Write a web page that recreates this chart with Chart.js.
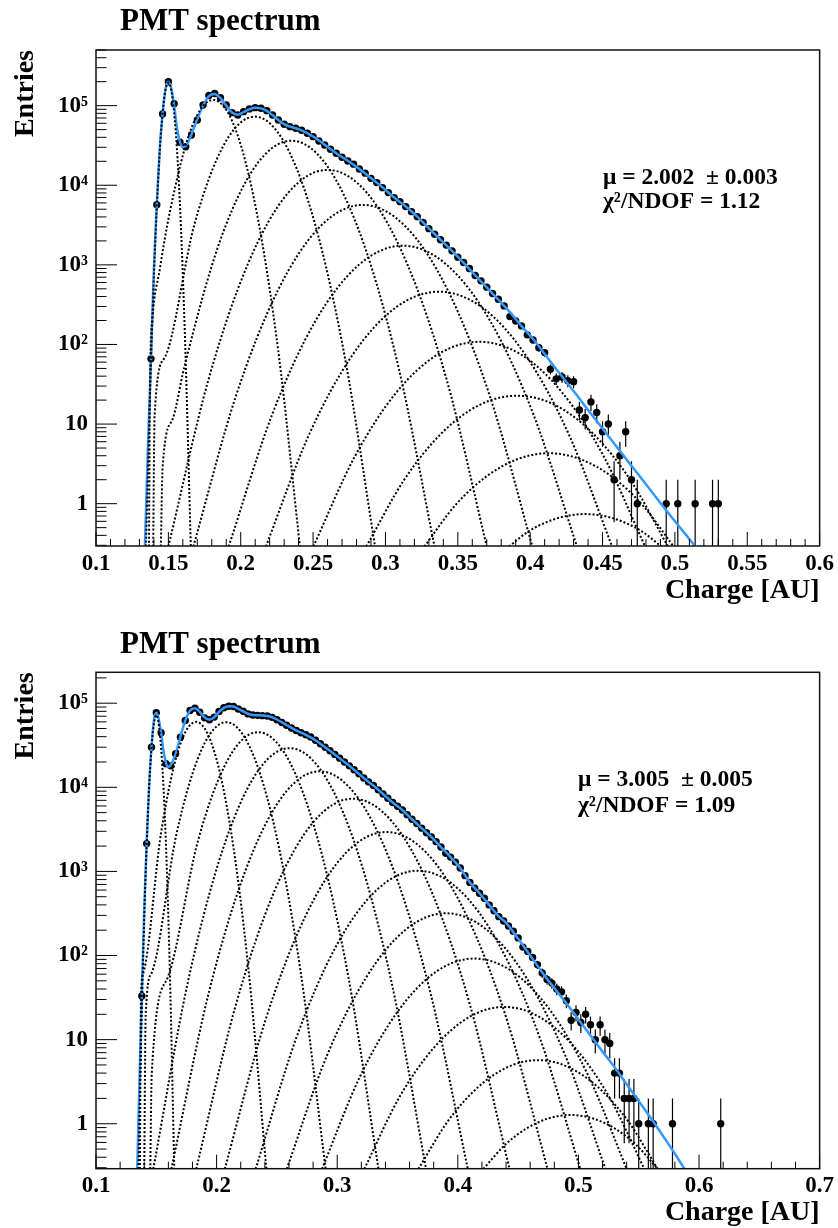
<!DOCTYPE html>
<html>
<head>
<meta charset="utf-8">
<script src="https://cdn.jsdelivr.net/npm/chart.js@4.4.1/dist/chart.umd.min.js"></script>
<style>
  html, body { margin: 0; padding: 0; background: #fff; }
  canvas { display: block; }
</style>
</head>
<body>
<canvas id="spectrumMu2" width="838" height="614"></canvas>
<canvas id="spectrumMu3" width="838" height="614"></canvas>
<script>
// histogram binning (bin centres start at 0.138, width 0.004)
const binStart = 0.138;
const binWidth = 0.004;

// ---- upper plot, mu = 2 ----
const countsMu2 = [
  66, 5700, 78700, 200000, 106000, 34700, 30500, 42800, 66100, 102000,
  134000, 142000, 126000, 102000, 81700, 76400, 84100, 91000, 94400, 92700,
  86500, 76400, 66100, 58400, 54500, 52000, 49100, 45000, 40800, 36000,
  32100, 28300, 25200, 22500, 20200, 18400, 16000, 14200, 12200, 10800,
  9330, 8080, 6990, 6220, 5390, 4660, 4030, 3420, 2850, 2430,
  2070, 1770, 1500, 1250, 1070, 900, 735, 630, 525, 436,
  370, 305, 224, 197, 171, 132, 114, 91, 79, 49,
  37, 39, 35, 34, 15, 12, 19, 14, 8, 10,
  2, 4, 8, 2, 1, null, null, null, null, 1,
  null, 1, null, null, 1, null, null, 1, 1
];

const fitMu2X = [0.1338, 0.136, 0.138, 0.140, 0.142, 0.144, 0.146, 0.148, 0.150, 0.152, 0.154, 0.156, 0.158, 0.160, 0.162, 0.164, 0.166, 0.170, 0.174, 0.178, 0.182, 0.186, 0.190, 0.194, 0.198, 0.202, 0.206, 0.210, 0.214, 0.218, 0.222, 0.226, 0.230, 0.234, 0.238, 0.242, 0.246, 0.250, 0.258, 0.266, 0.274, 0.282, 0.290, 0.298, 0.306, 0.314, 0.322, 0.330, 0.338, 0.346, 0.354, 0.362, 0.370, 0.378, 0.386, 0.394, 0.402, 0.41, 0.42, 0.43, 0.44, 0.45, 0.46, 0.47, 0.48, 0.49, 0.50, 0.51, 0.52];
const fitMu2Y = [0.29, 6, 66, 900, 5700, 28000, 79000, 160000, 200000, 165000, 100000, 52000, 35000, 30000, 31000, 36000, 44000, 68000, 100000, 132000, 140000, 124000, 100000, 82000, 77000, 83000, 90000, 94000, 92500, 86000, 76000, 66000, 58500, 54500, 52000, 49000, 45000, 41000, 32300, 25200, 20300, 16000, 12300, 9400, 7000, 5400, 4030, 2870, 2080, 1500, 1060, 740, 520, 365, 255, 170, 117, 76, 44, 26, 15, 8.8, 5.1, 3.0, 1.75, 1.02, 0.6, 0.36, 0.21];

// single photo-electron components
const compMu2X = [
  [0.1345, 0.1384, 0.1423, 0.1461, 0.150, 0.1539, 0.1578, 0.1616, 0.1655],
  [0.1366, 0.1374, 0.139, 0.144, 0.1511, 0.166, 0.181, 0.196, 0.2109, 0.2259, 0.2409],
  [0.1395, 0.1405, 0.1474, 0.1681, 0.1889, 0.2097, 0.2305, 0.2513, 0.2720, 0.2928],
  [0.1448, 0.146, 0.153, 0.1608, 0.1855, 0.2103, 0.235, 0.2597, 0.2845, 0.3092, 0.3339],
  [0.150, 0.1775, 0.205, 0.2325, 0.260, 0.2875, 0.315, 0.3425, 0.370],
  [0.1673, 0.1966, 0.2258, 0.2551, 0.2844, 0.3137, 0.3430, 0.3722, 0.4015],
  [0.1917, 0.2218, 0.2518, 0.2819, 0.312, 0.3421, 0.3722, 0.4022, 0.4323],
  [0.2174, 0.2473, 0.2772, 0.3071, 0.337, 0.3669, 0.3968, 0.4267, 0.4566],
  [0.2502, 0.2789, 0.3075, 0.3362, 0.3648, 0.3935, 0.4221, 0.4508, 0.4794],
  [0.2868, 0.3129, 0.3389, 0.3650, 0.391, 0.4171, 0.4431, 0.4692, 0.4952],
  [0.3269, 0.3484, 0.3699, 0.3915, 0.413, 0.4345, 0.4561, 0.4776, 0.4991],
  [0.3854, 0.39855, 0.4117, 0.42485, 0.438, 0.45115, 0.4643, 0.47745, 0.4906]
];
const compMu2Y = [
  [0.29, 105, 6870, 84500, 195000, 84500, 6870, 105, 0.29],
  [0.29, 40, 209, 865, 4710, 52700, 118000, 52700, 4710, 84, 0.29],
  [0.29, 13, 68, 3280, 33500, 72800, 33500, 3280, 68, 0.29],
  [0.29, 2.8, 11.6, 50, 1950, 17500, 36300, 17500, 1950, 50, 0.29],
  [0.29, 35, 1030, 7910, 15600, 7910, 1030, 35, 0.29],
  [0.29, 22.3, 483, 3060, 5660, 3060, 483, 22.3, 0.29],
  [0.29, 13.3, 200, 1010, 1743, 1010, 200, 13.3, 0.29],
  [0.29, 7.43, 73.6, 291, 460, 291, 73.6, 7.43, 0.29],
  [0.29, 3.94, 24.9, 75, 108, 75, 24.9, 3.94, 0.29],
  [0.29, 1.99, 7.71, 17.4, 22.7, 17.4, 7.71, 1.99, 0.29],
  [0.29, 0.962, 2.21, 3.64, 4.3, 3.64, 2.21, 0.962, 0.29],
  [0.29, 0.445, 0.590, 0.699, 0.74, 0.699, 0.590, 0.445, 0.29]
];

// ---- lower plot, mu = 3 ----
const countsMu3 = [
  33, 2140, 30000, 76900, 44500, 19100, 18000, 25100, 39500, 62300,
  81900, 87300, 78200, 67000, 63500, 68300, 79800, 88200, 92100, 91500,
  85300, 80200, 74600, 72400, 71700, 71100, 70500, 67900, 63500, 59000,
  54600, 50700, 47300, 44600, 42200, 39600, 36200, 33000, 30000, 27200,
  24600, 22200, 20000, 18000, 16200, 14500, 12900, 11600, 10500, 9330,
  8320, 7410, 6610, 5960, 5370, 4730, 4170, 3720, 3270, 2880,
  2570, 2260, 1950, 1640, 1480, 1290, 1100, 890, 740, 630,
  550, 480, 400, 340, 290, 257, 224, 195, 162, 126,
  112, 95, 78, 62, 52, 47, 40, 37, 29, 17,
  21, 16, 20, 15, 10, 15, 10, 9, 4, 4,
  2, 2, 2, 1, null, 1, 1, null, null, null,
  1, null, null, null, null, null, null, null, null, null,
  1
];

const fitMu3X = [0.1342, 0.136, 0.138, 0.140, 0.142, 0.144, 0.146, 0.148, 0.150, 0.152, 0.154, 0.156, 0.158, 0.160, 0.162, 0.166, 0.170, 0.174, 0.178, 0.182, 0.186, 0.190, 0.194, 0.198, 0.202, 0.206, 0.210, 0.214, 0.218, 0.222, 0.226, 0.230, 0.238, 0.242, 0.246, 0.250, 0.258, 0.266, 0.274, 0.282, 0.290, 0.298, 0.306, 0.314, 0.322, 0.330, 0.338, 0.346, 0.354, 0.362, 0.370, 0.378, 0.386, 0.394, 0.402, 0.410, 0.418, 0.426, 0.434, 0.44, 0.45, 0.46, 0.47, 0.48, 0.49, 0.50, 0.51, 0.52, 0.53, 0.54, 0.55, 0.56, 0.57, 0.58, 0.59];
const fitMu3Y = [0.29, 3, 33, 350, 2140, 10000, 30000, 62000, 77000, 65000, 44000, 27000, 19500, 17500, 18500, 25000, 40000, 62000, 82000, 87000, 79000, 68000, 63500, 68000, 79000, 88000, 92000, 91500, 85500, 80000, 75000, 72500, 71500, 70500, 68000, 64000, 55000, 47500, 42000, 36200, 30000, 24600, 20000, 16200, 12900, 10500, 8320, 6610, 5370, 4170, 3270, 2570, 1950, 1480, 1100, 740, 550, 400, 290, 245, 158, 100, 63, 41, 27, 17.4, 11.2, 7.2, 4.7, 2.95, 1.86, 1.17, 0.72, 0.44, 0.26];

const compMu3X = [
  [0.1351, 0.1388, 0.1425, 0.1463, 0.150, 0.1537, 0.1575, 0.1612, 0.1649],
  [0.1364, 0.1373, 0.1393, 0.1539, 0.1684, 0.183, 0.1976, 0.2122, 0.2267, 0.2413],
  [0.140, 0.1412, 0.1462, 0.1668, 0.1874, 0.208, 0.2286, 0.2492, 0.2698, 0.2904],
  [0.145, 0.1462, 0.1596, 0.1845, 0.2095, 0.2344, 0.2594, 0.2843, 0.3093, 0.3342],
  [0.1475, 0.1758, 0.2041, 0.2323, 0.2606, 0.2889, 0.3172, 0.3454, 0.3737],
  [0.1625, 0.1932, 0.2240, 0.2547, 0.2854, 0.3161, 0.3469, 0.3776, 0.4083],
  [0.1831, 0.2156, 0.248, 0.2805, 0.313, 0.3455, 0.378, 0.4104, 0.4429],
  [0.2068, 0.2403, 0.2737, 0.3072, 0.3406, 0.3741, 0.4075, 0.441, 0.4744],
  [0.2324, 0.2661, 0.2997, 0.3334, 0.367, 0.4007, 0.4343, 0.468, 0.5016],
  [0.2582, 0.2912, 0.3243, 0.3573, 0.3903, 0.4233, 0.4564, 0.4894, 0.5224],
  [0.2874, 0.319, 0.3506, 0.3821, 0.4137, 0.4453, 0.4769, 0.5084, 0.54],
  [0.3225, 0.3515, 0.3806, 0.4096, 0.4386, 0.4676, 0.4967, 0.5257, 0.5547],
  [0.3673, 0.3921, 0.4169, 0.4417, 0.4665, 0.4913, 0.5161, 0.5409, 0.5657],
  [0.4212, 0.4393, 0.4574, 0.4754, 0.4935, 0.5116, 0.5297, 0.5477, 0.5658]
];
const compMu3Y = [
  [0.29, 67.8, 3250, 33200, 72000, 33200, 3250, 67.8, 0.29],
  [0.29, 33, 62.5, 2840, 28000, 60000, 28000, 2840, 62.5, 0.29],
  [0.29, 19.7, 62.4, 2820, 27800, 59500, 27800, 2820, 62.4, 0.29],
  [0.29, 3.9, 55.3, 2300, 21500, 45300, 21500, 2300, 55.3, 0.29],
  [0.29, 45.6, 1650, 14200, 29200, 14200, 1650, 45.6, 0.29],
  [0.29, 34.6, 1030, 7860, 15500, 7860, 1030, 34.6, 0.29],
  [0.29, 24.9, 586, 3900, 7330, 3900, 586, 24.9, 0.29],
  [0.29, 16.7, 295, 1660, 2940, 1660, 295, 16.7, 0.29],
  [0.29, 10.5, 134, 614, 1020, 614, 134, 10.5, 0.29],
  [0.29, 6.31, 55.7, 206, 318, 206, 55.7, 6.31, 0.29],
  [0.29, 3.67, 22, 64.4, 92, 64.4, 22, 3.67, 0.29],
  [0.29, 2.06, 8.15, 18.6, 24.5, 18.6, 8.15, 2.06, 0.29],
  [0.29, 1.09, 2.73, 4.74, 5.7, 4.74, 2.73, 1.09, 0.29],
  [0.29, 0.564, 0.886, 1.16, 1.27, 1.16, 0.886, 0.564, 0.29]
];

// axis tick labels
const yDecades = [1, 10, 100, 1000, 10000, 100000];
const yDecadeLabels = ['1', '10', '10²', '10³', '10⁴', '10⁵'];
const xMajorMu2 = [0.1, 0.15, 0.2, 0.25, 0.3, 0.35, 0.4, 0.45, 0.5, 0.55, 0.6];
const xMajorMu3 = [0.1, 0.2, 0.3, 0.4, 0.5, 0.6, 0.7];

const statsMu2 = ['μ = 2.002  ± 0.003', 'χ²/NDOF = 1.12'];
const statsMu3 = ['μ = 3.005  ± 0.005', 'χ²/NDOF = 1.09'];

const SERIF = "'Liberation Serif', 'DejaVu Serif', serif";

function pairs(xs, ys) {
  return xs.map((x, i) => ({x: x, y: ys[i]}));
}

function histPoints(counts) {
  const pts = [];
  counts.forEach((c, i) => {
    if (c !== null) pts.push({x: +(binStart + i * binWidth).toFixed(4), y: c});
  });
  return pts;
}

function logTicks(min, max) {
  const out = [];
  for (let e = -1; e <= 6; e++) {
    for (let m = 1; m <= 9; m++) {
      const v = +(m * Math.pow(10, e)).toPrecision(3);
      if (v >= min && v <= max) out.push({value: v});
    }
  }
  return out;
}

function linTicks(lo, hi, step) {
  const out = [];
  const n = Math.round((hi - lo) / step);
  for (let i = 0; i <= n; i++) out.push({value: +(lo + i * step).toFixed(4)});
  return out;
}

// ROOT-like frame, inward tick marks, texts and error bars
const rootFrame = {
  id: 'rootFrame',
  beforeDatasetsDraw(chart, args, o) {
    const ctx = chart.ctx, a = chart.chartArea, ys = chart.scales.y;
    const pts = chart.data.datasets[o.pointsIndex].data;
    ctx.save();
    ctx.beginPath();
    ctx.rect(a.left, a.top, a.right - a.left, a.bottom - a.top);
    ctx.clip();
    ctx.strokeStyle = '#000';
    ctx.lineWidth = 1.2;
    pts.forEach(p => {
      const e = Math.sqrt(p.y);
      const px = chart.scales.x.getPixelForValue(p.x);
      const top = ys.getPixelForValue(p.y + e);
      const lo = p.y - e;
      const bot = lo > ys.min ? ys.getPixelForValue(lo) : a.bottom;
      ctx.beginPath();
      ctx.moveTo(px, top);
      ctx.lineTo(px, bot);
      ctx.stroke();
    });
    ctx.restore();
  },
  afterDraw(chart, args, o) {
    const ctx = chart.ctx, a = chart.chartArea;
    const xs = chart.scales.x, ys = chart.scales.y;
    ctx.save();
    ctx.strokeStyle = '#000';
    ctx.lineWidth = 1;
    xs.ticks.forEach(t => {
      const px = xs.getPixelForValue(t.value);
      const major = o.xMajor.some(m => Math.abs(m - t.value) < 1e-6);
      ctx.beginPath();
      ctx.moveTo(px, a.bottom);
      ctx.lineTo(px, a.bottom - (major ? 14 : 7));
      ctx.stroke();
    });
    ys.ticks.forEach(t => {
      const py = ys.getPixelForValue(t.value);
      const major = yDecades.some(d => Math.abs(d - t.value) / d < 1e-6);
      ctx.beginPath();
      ctx.moveTo(a.left, py);
      ctx.lineTo(a.left + (major ? 21 : 10.5), py);
      ctx.stroke();
    });
    ctx.lineWidth = 1.5;
    ctx.strokeStyle = '#111';
    ctx.strokeRect(a.left, a.top, a.right - a.left, a.bottom - a.top);

    ctx.fillStyle = '#000';
    ctx.textBaseline = 'alphabetic';
    ctx.font = 'bold 31px ' + SERIF;
    ctx.textAlign = 'left';
    ctx.fillText('PMT spectrum', 120, o.titleY);

    ctx.font = 'bold 28px ' + SERIF;
    ctx.textAlign = 'right';
    ctx.fillText('Charge [AU]', a.right, o.xTitleY);
    ctx.save();
    ctx.translate(33, a.top);
    ctx.rotate(-Math.PI / 2);
    ctx.textAlign = 'right';
    ctx.fillText('Entries', 0, 0);
    ctx.restore();

    ctx.font = 'bold 23.5px ' + SERIF;
    ctx.textAlign = 'left';
    o.stats.forEach((s, i) => ctx.fillText(s, o.statsX, o.statsY[i]));
    ctx.restore();
  }
};

function makeChart(id, cfg) {
  const datasets = [];
  cfg.compX.forEach((xs, i) => {
    datasets.push({
      data: pairs(xs, cfg.compY[i]),
      showLine: true,
      borderColor: '#000',
      borderWidth: 2,
      borderDash: [2, 2],
      pointRadius: 0,
      cubicInterpolationMode: 'monotone',
      order: 0
    });
  });
  datasets.push({
    data: pairs(cfg.fitX, cfg.fitY),
    showLine: true,
    borderColor: '#3399ff',
    borderWidth: 2.5,
    pointRadius: 0,
    cubicInterpolationMode: 'monotone',
    order: 1
  });
  datasets.push({
    data: histPoints(cfg.counts),
    showLine: false,
    pointRadius: 3.7,
    pointBackgroundColor: '#000',
    pointBorderWidth: 0,
    order: 2
  });
  const tickFont = {family: SERIF, size: 23, weight: 'bold'};
  return new Chart(document.getElementById(id), {
    type: 'scatter',
    data: {datasets: datasets},
    options: {
      responsive: false,
      animation: false,
      events: [],
      devicePixelRatio: 1,
      layout: {padding: {top: cfg.padTop, left: 0, right: 17, bottom: 0}},
      plugins: {
        legend: {display: false},
        tooltip: {enabled: false},
        rootFrame: {
          pointsIndex: datasets.length - 1,
          xMajor: cfg.xMajor,
          titleY: cfg.titleY,
          xTitleY: cfg.xTitleY,
          stats: cfg.stats,
          statsX: cfg.statsX,
          statsY: cfg.statsY
        }
      },
      scales: {
        x: {
          type: 'linear',
          min: 0.1,
          max: cfg.xMax,
          grid: {display: false, drawTicks: false},
          border: {display: false},
          afterBuildTicks: s => { s.ticks = linTicks(0.1, cfg.xMax, cfg.xStep); },
          afterFit: s => { s.height = cfg.xAxisHeight; },
          ticks: {
            autoSkip: false,
            maxRotation: 0,
            minRotation: 0,
            padding: 4,
            color: '#000',
            font: tickFont,
            callback: v => {
              const m = cfg.xMajor.find(t => Math.abs(t - v) < 1e-6);
              return m === undefined ? '' : String(m);
            }
          }
        },
        y: {
          type: 'logarithmic',
          min: cfg.yMin,
          max: cfg.yMax,
          grid: {display: false, drawTicks: false},
          border: {display: false},
          afterBuildTicks: s => { s.ticks = logTicks(cfg.yMin, cfg.yMax); },
          afterFit: s => { s.width = 96; },
          ticks: {
            autoSkip: false,
            padding: 8,
            color: '#000',
            font: tickFont,
            callback: v => {
              const i = yDecades.findIndex(d => Math.abs(d - v) / d < 1e-6);
              return i < 0 ? '' : yDecadeLabels[i];
            }
          }
        }
      }
    },
    plugins: [rootFrame]
  });
}

makeChart('spectrumMu2', {
  counts: countsMu2, fitX: fitMu2X, fitY: fitMu2Y, compX: compMu2X, compY: compMu2Y,
  xMax: 0.6, xStep: 0.01, xMajor: xMajorMu2,
  yMin: 0.294, yMax: 500000,
  padTop: 50, xAxisHeight: 68,
  titleY: 30, xTitleY: 598, stats: statsMu2, statsX: 603, statsY: [184, 208]
});

makeChart('spectrumMu3', {
  counts: countsMu3, fitX: fitMu3X, fitY: fitMu3Y, compX: compMu3X, compY: compMu3Y,
  xMax: 0.7, xStep: 0.02, xMajor: xMajorMu3,
  yMin: 0.292, yMax: 233000,
  padTop: 58.3, xAxisHeight: 59.3,
  titleY: 38.7, xTitleY: 606, stats: statsMu3, statsX: 578, statsY: [172, 198]
});
</script>
</body>
</html>
